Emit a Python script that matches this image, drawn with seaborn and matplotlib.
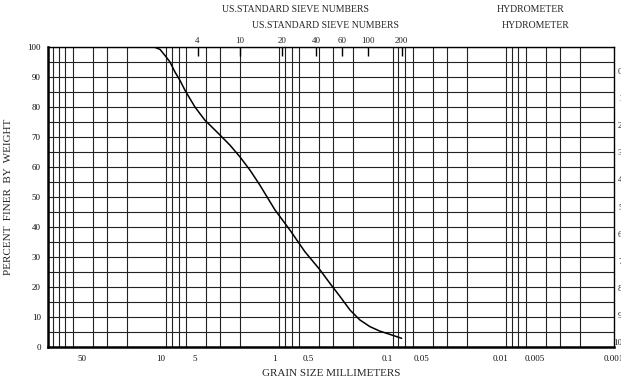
import numpy as np
import matplotlib
matplotlib.use("Agg")
import matplotlib.pyplot as plt
import matplotlib.ticker as mticker
import seaborn as sns

# grain size curve
size_mm = [25.5, 12.5, 11.3, 10.2, 9.22, 8.33, 7.53, 6.80, 6.14, 5.55, 5.01,
           4.53, 4.09, 3.70, 3.02, 2.46, 2.01, 1.64, 1.34, 1.16, 0.985,
           0.727, 0.537, 0.394, 0.322, 0.262, 0.214, 0.175, 0.143, 0.117,
           0.095, 0.075]
percent_finer = [100, 100, 99.9, 99.2, 97.2, 95, 91.7, 88.9, 85.6, 82.8, 80,
                 77.8, 75.6, 74, 70.7, 67.3, 63.4, 59, 54, 50.1, 45.7,
                 39, 31.8, 25.7, 21.2, 16.8, 12.3, 9, 6.8, 5.3,
                 4.2, 2.9]

x_ticks = [50, 10, 5, 1, 0.5, 0.1, 0.05, 0.01, 0.005, 0.001]
x_ticklabels = ["50", "10", "5", "1", "0.5", "0.1", "0.05", "0.01", "0.005", "0.001"]

sieve_numbers = ["4", "10", "20", "40", "60", "100", "200"]
sieve_mm = [4.75, 2.0, 0.85, 0.425, 0.25, 0.15, 0.075]

right_labels = ["0", "10", "20", "30", "40", "50", "60", "70", "80", "90", "100"]

LINE = "#222222"
FONT = ["Liberation Serif", "DejaVu Serif"]

sns.set_style("white")
plt.rcParams["font.family"] = FONT

fig = plt.figure(figsize=(6.21, 3.82), dpi=100, facecolor="white")
ax = fig.add_axes([47.7 / 621, 35 / 382, (614 - 47.7) / 621, 300 / 382])

ax.set_xscale("log")
ax.set_xlim(100, 0.001)
ax.set_ylim(0, 100)

# grid: every 1..9 x 10^k vertically, every 5 % horizontally
ax.xaxis.set_major_locator(mticker.FixedLocator(x_ticks))
ax.xaxis.set_major_formatter(mticker.FixedFormatter(x_ticklabels))
ax.xaxis.set_minor_locator(mticker.LogLocator(base=10, subs=np.arange(1, 10), numticks=20))
ax.xaxis.set_minor_formatter(mticker.NullFormatter())
ax.yaxis.set_major_locator(mticker.MultipleLocator(10))
ax.yaxis.set_minor_locator(mticker.MultipleLocator(5))
ax.grid(True, which="minor", axis="both", color=LINE, linewidth=0.8)
ax.grid(True, which="major", axis="y", color=LINE, linewidth=0.8)
ax.tick_params(which="both", length=0, labelsize=6.5, colors="#111111")
ax.tick_params(axis="x", pad=6)
ax.tick_params(axis="y", pad=5)

for side, lw in [("left", 1.8), ("bottom", 1.8), ("top", 1.0), ("right", 1.0)]:
    ax.spines[side].set_color("black")
    ax.spines[side].set_linewidth(lw)

sns.lineplot(x=size_mm, y=percent_finer, ax=ax, color="black", linewidth=1.1,
             sort=False, estimator=None)

# sieve marks along the top
ax.vlines(sieve_mm, 0.97, 1.0, transform=ax.get_xaxis_transform(),
          color="black", linewidth=1.0)
for num, mm in zip(sieve_numbers, sieve_mm):
    ax.text(mm, 1.006, num, transform=ax.get_xaxis_transform(),
            ha="center", va="bottom", fontsize=6.5)

ax.set_xlabel("GRAIN SIZE MILLIMETERS", fontsize=8, labelpad=4)
ax.set_ylabel("PERCENT  FINER  BY  WEIGHT", fontsize=8, labelpad=10)

fig.text(295 / 621, 1 - 10 / 382, "US.STANDARD SIEVE NUMBERS", ha="center", va="center", fontsize=7)
fig.text(325 / 621, 1 - 25 / 382, "US.STANDARD SIEVE NUMBERS", ha="center", va="center", fontsize=7)
fig.text(531 / 621, 1 - 10 / 382, "HYDROMETER", ha="center", va="center", fontsize=7)
fig.text(536 / 621, 1 - 25 / 382, "HYDROMETER", ha="center", va="center", fontsize=7)

# right-hand scale, cut off by the page edge as in the source
for lbl, yy in zip(right_labels, np.linspace(0.917, 0.013, len(right_labels))):
    xx = 1.007 if len(lbl) < 3 else 0.998
    ax.text(xx, yy, lbl, transform=ax.transAxes, ha="left", va="center", fontsize=6.5)

fig.savefig("out.png", dpi=100, facecolor="white")
